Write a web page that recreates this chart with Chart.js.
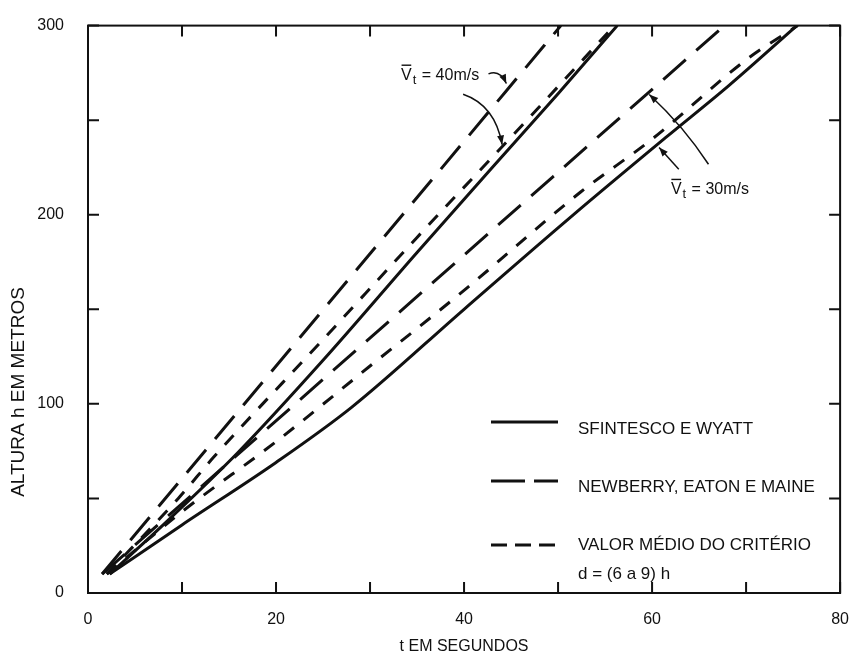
<!DOCTYPE html>
<html>
<head>
<meta charset="utf-8">
<script src="https://cdn.jsdelivr.net/npm/chart.js@4.4.1/dist/chart.umd.min.js"></script>
<style>
  html, body { margin: 0; padding: 0; background: #fff; }
</style>
</head>
<body>
<canvas id="chart" width="858" height="661"></canvas>
<script>
// tick labels
const xTickLabels = [0, 20, 40, 60, 80];
const yTickLabels = [0, 100, 200, 300];

// t (s) / h (m), two terminal velocities per criterion
const tSfint40 = [2.3, 8, 15.9, 25, 35, 43, 50, 56.3];
const hSfint40 = [10, 36, 74, 123, 180, 225, 264, 300];
const tSfint30 = [2.3, 10, 20, 28, 40, 51.4, 61.5, 68.1, 75.4];
const hSfint30 = [10, 36, 69, 98, 150, 199, 241, 268, 300];

const tNewb40 = [1.5, 50.3];
const hNewb40 = [10, 300];
const tNewb30 = [1.5, 67.7];
const hNewb30 = [10, 300];

const tMedio40 = [2, 9.6, 13.4, 25, 35, 46.5, 56];
const hMedio40 = [10, 50, 72, 134, 188, 249, 300];
const tMedio30 = [2, 10, 20, 30, 40, 52.4, 60, 70.3, 75.5];
const hMedio30 = [10, 43, 80, 120, 160, 212, 240, 283, 300];

const legendLabels = ["SFINTESCO E WYATT", "NEWBERRY, EATON E MAINE", "VALOR MÉDIO DO CRITÉRIO"];

const INK = "#111";
const FONT = '"Liberation Sans", Arial, Helvetica, sans-serif';
const SOLID = [];
const LONG = [30, 14];
const SHORT = [13, 12];

function pts(ts, hs) { return ts.map((t, i) => ({ x: t, y: hs[i] })); }
function series(ts, hs, dash) {
  return {
    data: pts(ts, hs), borderColor: INK, borderWidth: 3, borderDash: dash,
    pointRadius: 0, fill: false, cubicInterpolationMode: "monotone", borderCapStyle: "butt",
  };
}

// annotation anchors in data units
const notes = [
  { label: "40m/s", t: 33.3, h: 271.5,
    arrows: [
      { from: [42.6, 274.5], ctrl: [43.8, 277], to: [44.5, 269.4] },
      { from: [39.9, 263.7], ctrl: [43.3, 257.9], to: [44.05, 237.1] },
    ] },
  { label: "30m/s", t: 62.0, h: 211.1,
    arrows: [
      { from: [62.84, 224.1], ctrl: [61.8, 229.8], to: [60.75, 235.6] },
      { from: [66.0, 226.7], ctrl: [63.4, 246.5], to: [59.7, 263.6] },
    ] },
];

function arrowHead(ctx, x0, y0, x1, y1) {
  const a = Math.atan2(y1 - y0, x1 - x0), L = 9, W = 3.5;
  ctx.beginPath();
  ctx.moveTo(x1, y1);
  ctx.lineTo(x1 - L * Math.cos(a) + W * Math.sin(a), y1 - L * Math.sin(a) - W * Math.cos(a));
  ctx.lineTo(x1 - L * Math.cos(a) - W * Math.sin(a), y1 - L * Math.sin(a) + W * Math.cos(a));
  ctx.closePath();
  ctx.fill();
}

function drawVt(ctx, px, base, tail) {
  ctx.font = "16px " + FONT;
  ctx.textAlign = "left";
  ctx.textBaseline = "alphabetic";
  ctx.fillText("V", px, base);
  const wV = ctx.measureText("V").width;
  ctx.fillRect(px + 0.5, base - 15, wV - 1, 1.4); // overbar
  ctx.font = "13px " + FONT;
  ctx.fillText("t", px + wV + 1, base + 4);
  const wt = ctx.measureText("t").width;
  ctx.font = "16px " + FONT;
  ctx.fillText(" = " + tail, px + wV + wt + 2, base);
}

const decor = {
  id: "decor",
  afterDatasetsDraw(chart) {
    const { ctx, chartArea: a, scales: { x, y } } = chart;
    const TICK = 11;
    ctx.save();
    ctx.strokeStyle = INK; ctx.fillStyle = INK; ctx.lineWidth = 2; ctx.setLineDash([]);
    ctx.strokeRect(a.left, a.top, a.right - a.left, a.bottom - a.top);

    // inward ticks, all four sides
    ctx.beginPath();
    x.ticks.forEach((tk) => {
      const px = x.getPixelForValue(tk.value);
      ctx.moveTo(px, a.bottom); ctx.lineTo(px, a.bottom - TICK);
      ctx.moveTo(px, a.top); ctx.lineTo(px, a.top + TICK);
    });
    y.ticks.forEach((tk) => {
      const py = y.getPixelForValue(tk.value);
      ctx.moveTo(a.left, py); ctx.lineTo(a.left + TICK, py);
      ctx.moveTo(a.right, py); ctx.lineTo(a.right - TICK, py);
    });
    ctx.stroke();

    // y title, sits lower than the plot centre in the original
    ctx.save();
    ctx.translate(19, 392);
    ctx.rotate(-Math.PI / 2);
    ctx.font = "19px " + FONT;
    ctx.textAlign = "center"; ctx.textBaseline = "middle";
    ctx.fillText("ALTURA h EM METROS", 0, 0);
    ctx.restore();

    // legend
    const rows = [
      { ly: 422, ty: 429, pattern: [] },
      { ly: 481, ty: 487, pattern: [34, 9] },
      { ly: 545, ty: 545, pattern: [16, 8] },
    ];
    ctx.font = "17px " + FONT;
    ctx.textAlign = "left"; ctx.textBaseline = "middle";
    rows.forEach((r, i) => {
      ctx.lineWidth = 3;
      ctx.setLineDash(r.pattern);
      ctx.beginPath(); ctx.moveTo(491, r.ly); ctx.lineTo(558, r.ly); ctx.stroke();
      ctx.fillText(legendLabels[i], 578, r.ty);
    });
    ctx.setLineDash([]);
    ctx.fillText("d = (6 a 9) h", 578, 574);

    // terminal-velocity callouts
    ctx.lineWidth = 1.5;
    notes.forEach((n) => {
      drawVt(ctx, x.getPixelForValue(n.t), y.getPixelForValue(n.h), n.label);
      n.arrows.forEach((ar) => {
        const p0 = [x.getPixelForValue(ar.from[0]), y.getPixelForValue(ar.from[1])];
        const c = [x.getPixelForValue(ar.ctrl[0]), y.getPixelForValue(ar.ctrl[1])];
        const p1 = [x.getPixelForValue(ar.to[0]), y.getPixelForValue(ar.to[1])];
        ctx.beginPath(); ctx.moveTo(p0[0], p0[1]); ctx.quadraticCurveTo(c[0], c[1], p1[0], p1[1]); ctx.stroke();
        arrowHead(ctx, c[0], c[1], p1[0], p1[1]);
      });
    });
    ctx.restore();
  },
};

new Chart(document.getElementById("chart"), {
  type: "line",
  data: {
    datasets: [
      series(tSfint40, hSfint40, SOLID),
      series(tSfint30, hSfint30, SOLID),
      series(tNewb40, hNewb40, LONG),
      series(tNewb30, hNewb30, LONG),
      series(tMedio40, hMedio40, SHORT),
      series(tMedio30, hMedio30, SHORT),
    ],
  },
  options: {
    responsive: false, animation: false, devicePixelRatio: 1,
    layout: { padding: { top: 16, right: 2, left: 0, bottom: 0 } },
    plugins: { legend: { display: false }, tooltip: { enabled: false } },
    scales: {
      x: {
        type: "linear", min: 0, max: 80,
        afterFit: (s) => { s.height = 68; },
        grid: { display: false }, border: { display: false },
        ticks: {
          stepSize: 10, autoSkip: false, maxRotation: 0, padding: 9, color: INK,
          font: { family: FONT, size: 16 },
          callback: (v) => (xTickLabels.includes(v) ? String(v) : ""),
        },
        title: { display: true, text: "t EM SEGUNDOS", color: INK, font: { family: FONT, size: 16 }, padding: { top: 4, bottom: 5 } },
      },
      y: {
        type: "linear", min: 0, max: 300,
        afterFit: (s) => { s.width = 88; },
        grid: { display: false }, border: { display: false },
        ticks: {
          stepSize: 50, autoSkip: false, padding: 16, color: INK,
          font: { family: FONT, size: 16 },
          callback: (v) => (yTickLabels.includes(v) ? String(v) : ""),
        },
      },
    },
  },
  plugins: [decor],
});
</script>
</body>
</html>
